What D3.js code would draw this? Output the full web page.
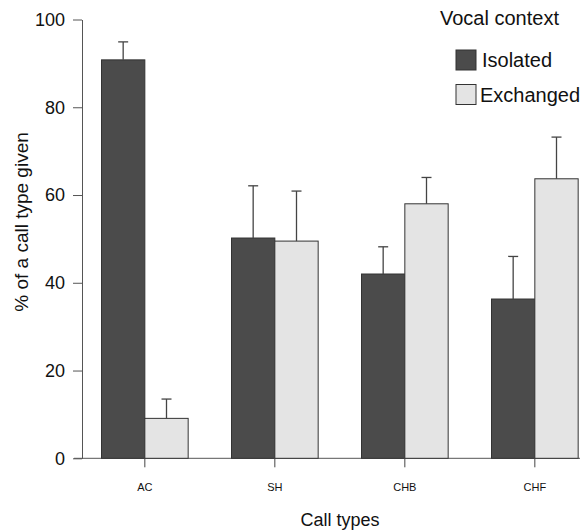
<!DOCTYPE html>
<html>
<head>
<meta charset="utf-8">
<script src="https://cdnjs.cloudflare.com/ajax/libs/d3/7.8.5/d3.min.js"></script>
<style>
  body { margin: 0; background: #fff; }
  text { font-family: "Liberation Sans", Arial, sans-serif; fill: #111; }
</style>
</head>
<body>
<div id="chart"></div>
<script>
// data
var callTypes = ["AC", "SH", "CHB", "CHF"];
var contexts = ["Isolated", "Exchanged"];
var isolatedMean = [90.8, 50.2, 42.0, 36.3];
var isolatedErr = [94.9, 62.1, 48.2, 46.0];
var exchangedMean = [9.1, 49.5, 58.0, 63.7];
var exchangedErr = [13.5, 60.9, 64.0, 73.2];
var yTicks = [0, 20, 40, 60, 80, 100];

var width = 585, height = 531;
var fills = { Isolated: "#4b4b4b", Exchanged: "#e4e4e4" };

var svg = d3.select("#chart").append("svg")
    .attr("width", width)
    .attr("height", height);

// build rows for the bars
var rows = [];
callTypes.forEach(function(c, i) {
    rows.push({ type: c, ctx: "Isolated", mean: isolatedMean[i], top: isolatedErr[i] });
    rows.push({ type: c, ctx: "Exchanged", mean: exchangedMean[i], top: exchangedErr[i] });
});

// scales
var axisX = 82;
var x = d3.scaleBand()
    .domain(callTypes)
    .range([axisX, axisX + 130 * (4 - 1 / 3 + 0.3)])
    .paddingInner(1 / 3)
    .paddingOuter(0.15);

var xInner = d3.scaleBand()
    .domain(contexts)
    .range([0, x.bandwidth()]);

var y = d3.scaleLinear()
    .domain([0, 100])
    .range([458.3, 19.5]);

// y axis
var yAxis = svg.append("g")
    .attr("transform", `translate(${axisX}, 0)`)
    .call(d3.axisLeft(y).tickValues(yTicks).tickSize(9).tickSizeOuter(0).tickPadding(8));
yAxis.selectAll("text").style("font-size", "18px");
yAxis.selectAll("line, path").attr("stroke", "#555");

// x axis baseline
svg.append("line")
    .attr("x1", 74).attr("x2", 580)
    .attr("y1", y(0)).attr("y2", y(0))
    .attr("stroke", "#555");

// bars
svg.append("g").selectAll("rect")
    .data(rows)
    .enter()
    .append("rect")
    .attr("x", d => x(d.type) + xInner(d.ctx))
    .attr("y", d => y(d.mean))
    .attr("width", xInner.bandwidth())
    .attr("height", d => y(0) - y(d.mean))
    .attr("fill", d => fills[d.ctx])
    .attr("stroke", "#333")
    .attr("stroke-width", 1);

// error bars, upper whisker only
var err = svg.append("g").selectAll("g")
    .data(rows)
    .enter()
    .append("g")
    .attr("stroke", "#444")
    .attr("stroke-width", 1.3);
err.append("line")
    .attr("x1", d => x(d.type) + xInner(d.ctx) + xInner.bandwidth() / 2)
    .attr("x2", d => x(d.type) + xInner(d.ctx) + xInner.bandwidth() / 2)
    .attr("y1", d => y(d.mean))
    .attr("y2", d => y(d.top));
err.append("line")
    .attr("x1", d => x(d.type) + xInner(d.ctx) + xInner.bandwidth() / 2 - 5)
    .attr("x2", d => x(d.type) + xInner(d.ctx) + xInner.bandwidth() / 2 + 5)
    .attr("y1", d => y(d.top))
    .attr("y2", d => y(d.top));

// x axis ticks + labels
var xAxis = svg.append("g")
    .attr("transform", `translate(0, ${y(0)})`)
    .call(d3.axisBottom(x).tickSize(9).tickSizeOuter(0).tickPadding(16));
xAxis.select(".domain").remove();
xAxis.selectAll("line").attr("stroke", "#444");
xAxis.selectAll("text").style("font-size", "11px");

// axis titles
svg.append("text")
    .attr("x", 340)
    .attr("y", 526)
    .attr("text-anchor", "middle")
    .style("font-size", "18px")
    .text("Call types");

svg.append("text")
    .attr("transform", "translate(28, 222) rotate(-90)")
    .attr("text-anchor", "middle")
    .style("font-size", "19px")
    .text("% of a call type given");

// legend
svg.append("text")
    .attr("x", 440)
    .attr("y", 25)
    .style("font-size", "20px")
    .text("Vocal context");

var legend = svg.append("g").selectAll("g")
    .data(contexts)
    .enter()
    .append("g")
    .attr("transform", (d, i) => `translate(456, ${50 + i * 34.5})`);
legend.append("rect")
    .attr("width", 20)
    .attr("height", 20)
    .attr("fill", d => fills[d])
    .attr("stroke", "#333");
legend.append("text")
    .attr("x", d => d == "Isolated" ? 26 : 24)
    .attr("y", 17)
    .style("font-size", "20px")
    .text(d => d);
</script>
</body>
</html>
